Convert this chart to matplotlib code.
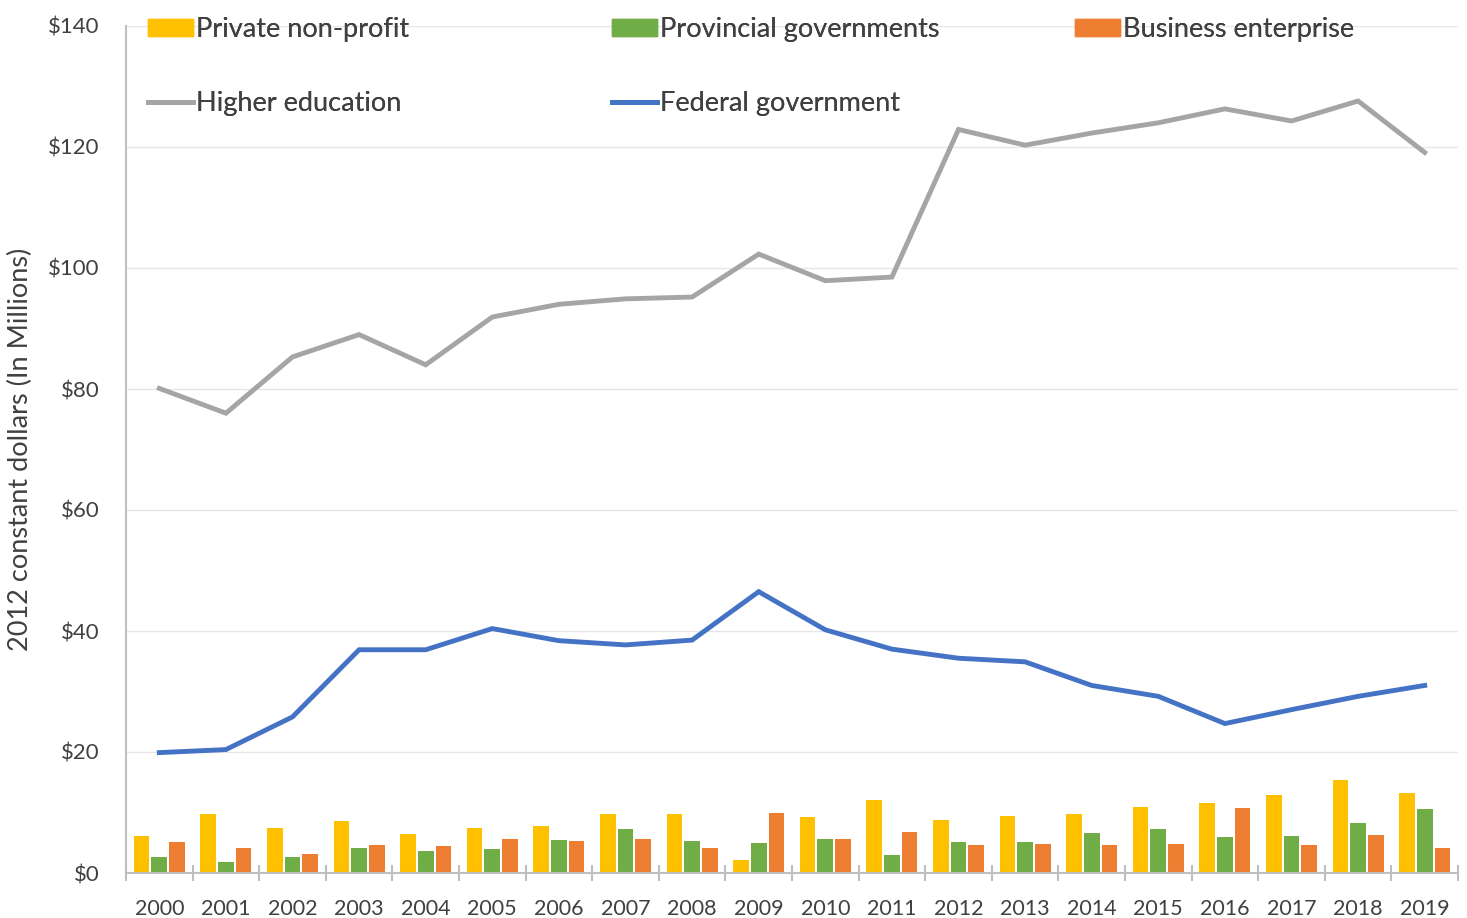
import matplotlib
matplotlib.use("Agg")
import matplotlib.pyplot as plt
from matplotlib.patches import Patch
from matplotlib.lines import Line2D
import numpy as np

plt.rcParams['font.family'] = ['Lato', 'DejaVu Sans']

years = [str(y) for y in range(2000, 2020)]
private_nonprofit = [6.1, 9.7, 7.5, 8.6, 6.4, 7.5, 7.7, 9.8, 9.8, 2.1, 9.3, 12.0,
                     8.8, 9.5, 9.8, 10.9, 11.6, 12.9, 15.3, 13.3]
provincial_gov = [2.6, 1.9, 2.6, 4.2, 3.7, 3.9, 5.5, 7.3, 5.3, 5.0, 5.7, 3.0,
                  5.2, 5.2, 6.6, 7.2, 5.9, 6.1, 8.3, 10.6]
business_ent = [5.2, 4.1, 3.1, 4.6, 4.4, 5.6, 5.3, 5.7, 4.1, 9.9, 5.7, 6.8,
                4.6, 4.8, 4.6, 4.8, 10.7, 4.6, 6.2, 4.2]
higher_edu = [80.1, 76.0, 85.3, 89.0, 84.0, 91.9, 94.0, 94.9, 95.2, 102.3,
              97.9, 98.5, 122.9, 120.3, 122.3, 124.0, 126.3, 124.3, 127.6, 119.1]
federal_gov = [19.9, 20.4, 25.8, 36.9, 36.9, 40.4, 38.4, 37.7, 38.5, 46.5,
               40.2, 37.0, 35.5, 34.9, 31.0, 29.2, 24.7, 27.0, 29.2, 31.0]
y_ticks = [0, 20, 40, 60, 80, 100, 120, 140]
y_tick_labels = ['$' + str(v) for v in y_ticks]

c_yellow = '#FFC000'
c_green = '#70AD47'
c_orange = '#ED7D31'
c_gray = '#A5A5A5'
c_blue = '#4472C4'
text_c = '#404040'

fig = plt.figure(figsize=(14.67, 9.18), dpi=100)
ax = fig.add_axes([126 / 1467, 45 / 918, (1458 - 126) / 1467, (892 - 45) / 918])

x = np.arange(len(years))
w = 0.235
off = 0.265
ax.bar(x - off, private_nonprofit, w, color=c_yellow, zorder=2)
ax.bar(x, provincial_gov, w, color=c_green, zorder=2)
ax.bar(x + off, business_ent, w, color=c_orange, zorder=2)
ax.plot(x, higher_edu, color=c_gray, lw=3.5, zorder=3, solid_joinstyle='miter')
ax.plot(x, federal_gov, color=c_blue, lw=3.5, zorder=3, solid_joinstyle='miter')

ax.set_xlim(-0.5, len(years) - 0.5)
ax.set_ylim(0, 140)
ax.set_yticks(y_ticks)
ax.set_yticklabels(y_tick_labels)
ax.set_xticks(x)
ax.set_xticklabels(years)
ax.set_xticks(np.arange(-0.5, len(years), 1.0), minor=True)

ax.tick_params(axis='y', length=0, pad=19, labelsize=16, labelcolor=text_c)
ax.tick_params(axis='x', which='major', length=0, pad=19, labelsize=15.5, labelcolor=text_c)
ax.tick_params(axis='x', which='minor', length=11, direction='inout', color='#BFBFBF', width=1.5)

ax.grid(axis='y', color='#E6E6E6', lw=1.0, zorder=0)
ax.set_axisbelow(True)
for s in ['top', 'right']:
    ax.spines[s].set_visible(False)
ax.spines['left'].set_color('#BFBFBF')
ax.spines['left'].set_linewidth(1.5)
ax.spines['bottom'].set_color('#BFBFBF')
ax.spines['bottom'].set_linewidth(1.5)

ax.set_ylabel('2012 constant dollars (In Millions)', fontsize=19.5, color=text_c)
ax.yaxis.set_label_coords(-0.0695, 0.5)

# Legend: three columns positioned like the reference
leg_kw = dict(frameon=False, fontsize=19.5, handlelength=1.65, handleheight=0.6,
              handletextpad=0.12, labelspacing=1.8, borderpad=0, borderaxespad=0,
              labelcolor=text_c)
col1 = [Patch(color=c_yellow, label='Private non-profit'),
        Line2D([], [], color=c_gray, lw=3.5, label='Higher education')]
col2 = [Patch(color=c_green, label='Provincial governments'),
        Line2D([], [], color=c_blue, lw=3.5, label='Federal government')]
col3 = [Patch(color=c_orange, label='Business enterprise')]
top = 1 - 17 / 918
for handles, xpx in [(col1, 148), (col2, 612), (col3, 1075)]:
    lg = fig.legend(handles=handles, loc='upper left',
                    bbox_to_anchor=(xpx / 1467, top), **leg_kw)
    fig.add_artist(lg)

fig.savefig('out.png', dpi=100, facecolor='white')
